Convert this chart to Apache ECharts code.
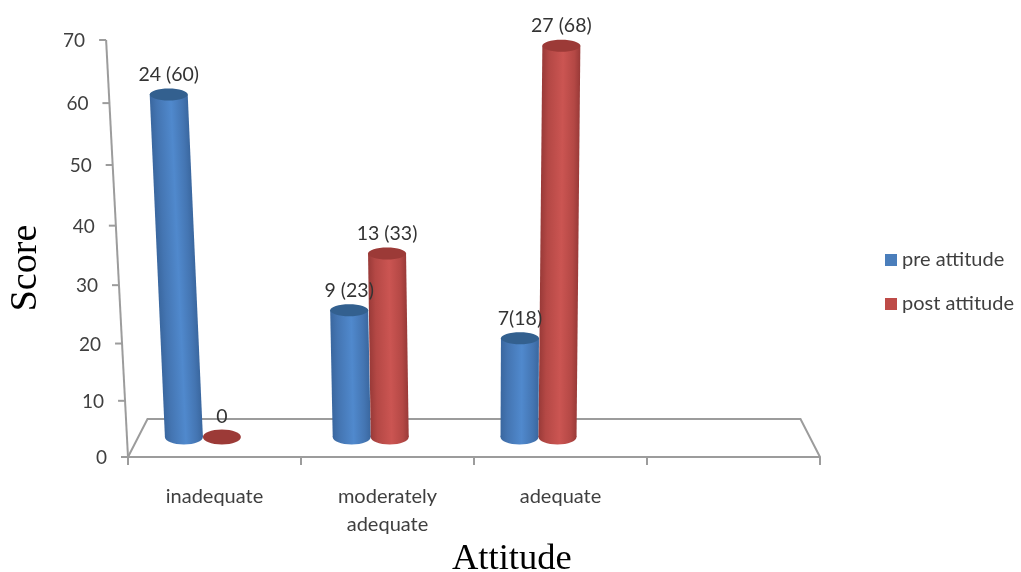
<!DOCTYPE html>
<html>
<head>
<meta charset="utf-8">
<style>
  html, body { margin: 0; padding: 0; background: #fff; }
  #chart { width: 1021px; height: 572px; }
</style>
<script src="https://cdn.jsdelivr.net/npm/echarts@6/dist/echarts.min.js"></script>
</head>
<body>
<div id="chart"></div>
<script>
const categories = ["inadequate", "moderately\nadequate", "adequate", ""];
const yTicks = [0, 10, 20, 30, 40, 50, 60, 70];
const preValues = [60, 23, 18];
const postValues = [0, 33, 68];
const preLabels = ["24 (60)", "9 (23)", "7(18)"];
const postLabels = ["0", "13 (33)", "27 (68)"];

const labelFont = "Lato";
const labelColor = "#3f3f3f";
const frameColor = "#9c9c9c";

// the picture is a tilted 3d chart: these undo the flat cartesian scale
const perspective = 0.07;
const leanPerPx = 0.000145;
const vanishX = 490;
const floorDepth = 38;
const floorInset = 19.5;

const chart = echarts.init(document.getElementById("chart"));

function warpHeight(flatY, coordSys) {
  const s = (coordSys.y + coordSys.height - flatY) / coordSys.height;
  return (coordSys.height * s) / (1 + perspective * (1 - s));
}

function leanX(x, h) {
  return x + (x - vanishX) * leanPerPx * h;
}

function renderFrame(params, api) {
  const cs = params.coordSys;
  const bottom = cs.y + cs.height;
  const left = cs.x;
  const right = cs.x + cs.width;
  const h = warpHeight(api.coord([0, api.value(0)])[1], cs);
  const x = leanX(left, h);
  const y = bottom - h;
  const line = { stroke: frameColor, lineWidth: 2, fill: null };
  const children = [
    { type: "line", shape: { x1: x - 7, y1: y, x2: x, y2: y }, style: line },
    {
      type: "text",
      x: x - 21,
      y: y + 1,
      style: {
        text: String(api.value(0)),
        fill: labelColor,
        font: "19px " + labelFont,
        align: "right",
        verticalAlign: "middle",
      },
    },
  ];
  if (params.dataIndex === 0) {
    children.push({
      type: "line",
      shape: { x1: left, y1: bottom, x2: leanX(left, warpHeight(cs.y, cs)), y2: cs.y },
      style: line,
    });
    children.push({
      type: "polyline",
      shape: {
        points: [
          [left, bottom],
          [left + floorInset, bottom - floorDepth],
          [right - floorInset, bottom - floorDepth],
          [right, bottom],
        ],
      },
      style: line,
    });
  }
  return { type: "group", children };
}

function cylinder(labels, offset, shade) {
  return function (params, api) {
    const cs = params.coordSys;
    const rx = 19;
    const baseY = cs.y + cs.height - 20;
    const flatX = api.coord([api.value(0), 0])[0];
    const baseX = cs.x + 10 + (flatX - cs.x) * 0.97 + offset;
    const h = warpHeight(api.coord([api.value(0), api.value(1)])[1], cs) * 0.968;
    const topX = leanX(baseX, h);
    const topY = baseY - h;
    const label = {
      type: "text",
      x: topX,
      y: topY - 20,
      z2: 100,
      style: {
        text: labels[params.dataIndex],
        fill: "#333",
        font: "19.5px " + labelFont,
        align: "center",
        verticalAlign: "middle",
      },
    };
    if (h < 1) {
      return {
        type: "group",
        children: [
          { type: "ellipse", shape: { cx: baseX, cy: baseY, rx, ry: 7.5 }, style: { fill: shade.cap } },
          label,
        ],
      };
    }
    // gradient runs across the leaning bar, not straight across the screen
    const dx = topX - baseX;
    const len = Math.sqrt(dx * dx + h * h);
    const nx = h / len;
    const ny = dx / len;
    const fill = new echarts.graphic.LinearGradient(
      baseX - rx * nx,
      baseY - rx * ny,
      baseX + rx * nx,
      baseY + rx * ny,
      [
        { offset: 0, color: shade.edge },
        { offset: 0.18, color: shade.mid },
        { offset: 0.55, color: shade.light },
        { offset: 0.85, color: shade.mid },
        { offset: 1, color: shade.edge },
      ],
      true
    );
    return {
      type: "group",
      children: [
        { type: "ellipse", shape: { cx: baseX, cy: baseY, rx, ry: 7.5 }, style: { fill } },
        {
          type: "polygon",
          shape: {
            points: [
              [baseX - rx, baseY],
              [topX - rx, topY],
              [topX + rx, topY],
              [baseX + rx, baseY],
            ],
          },
          style: { fill },
        },
        { type: "ellipse", shape: { cx: topX, cy: topY, rx, ry: 6 }, style: { fill: shade.cap } },
        label,
      ],
    };
  };
}

const blueShade = { edge: "#3a679f", mid: "#4475b2", light: "#5089cd", cap: "#33608f" };
const redShade = { edge: "#993a38", mid: "#b44845", light: "#cb5552", cap: "#9c3a37" };

const option = {
  animation: false,
  backgroundColor: "#fff",
  grid: { left: 128, right: 201, top: 40, bottom: 115 },
  legend: {
    data: ["pre attitude", "post attitude"],
    orient: "vertical",
    left: 880,
    top: 245,
    itemWidth: 12,
    itemHeight: 12,
    itemGap: 24,
    icon: "rect",
    textStyle: { fontFamily: labelFont, fontSize: 20, color: labelColor },
  },
  xAxis: {
    type: "category",
    data: categories,
    boundaryGap: true,
    axisLine: { lineStyle: { color: frameColor, width: 2 } },
    axisTick: { show: true, length: 8, alignWithLabel: false, lineStyle: { color: frameColor, width: 2 } },
    axisLabel: {
      interval: 0,
      margin: 26,
      fontFamily: labelFont,
      fontSize: 20,
      lineHeight: 28,
      color: labelColor,
    },
  },
  yAxis: { type: "value", min: 0, max: 70, interval: 10, show: false },
  graphic: [
    {
      type: "text",
      left: 452,
      top: 541,
      style: { text: "Attitude", font: "36.5px 'Liberation Serif'", fill: "#000" },
    },
    {
      type: "text",
      x: 26,
      y: 268,
      rotation: Math.PI / 2,
      style: {
        text: "Score",
        font: "38px 'Liberation Serif'",
        fill: "#000",
        align: "center",
        verticalAlign: "middle",
      },
    },
  ],
  series: [
    {
      name: "frame",
      type: "custom",
      silent: true,
      data: yTicks.map((t) => [t]),
      encode: { y: 0 },
      renderItem: renderFrame,
    },
    {
      name: "pre attitude",
      type: "custom",
      itemStyle: { color: "#4a7ebb" },
      data: preValues.map((v, i) => [i, v]),
      encode: { x: 0, y: 1 },
      renderItem: cylinder(preLabels, -38, blueShade),
    },
    {
      name: "post attitude",
      type: "custom",
      itemStyle: { color: "#be4b48" },
      data: postValues.map((v, i) => [i, v]),
      encode: { x: 0, y: 1 },
      renderItem: cylinder(postLabels, 0, redShade),
    },
  ],
};

chart.setOption(option);
</script>
</body>
</html>
